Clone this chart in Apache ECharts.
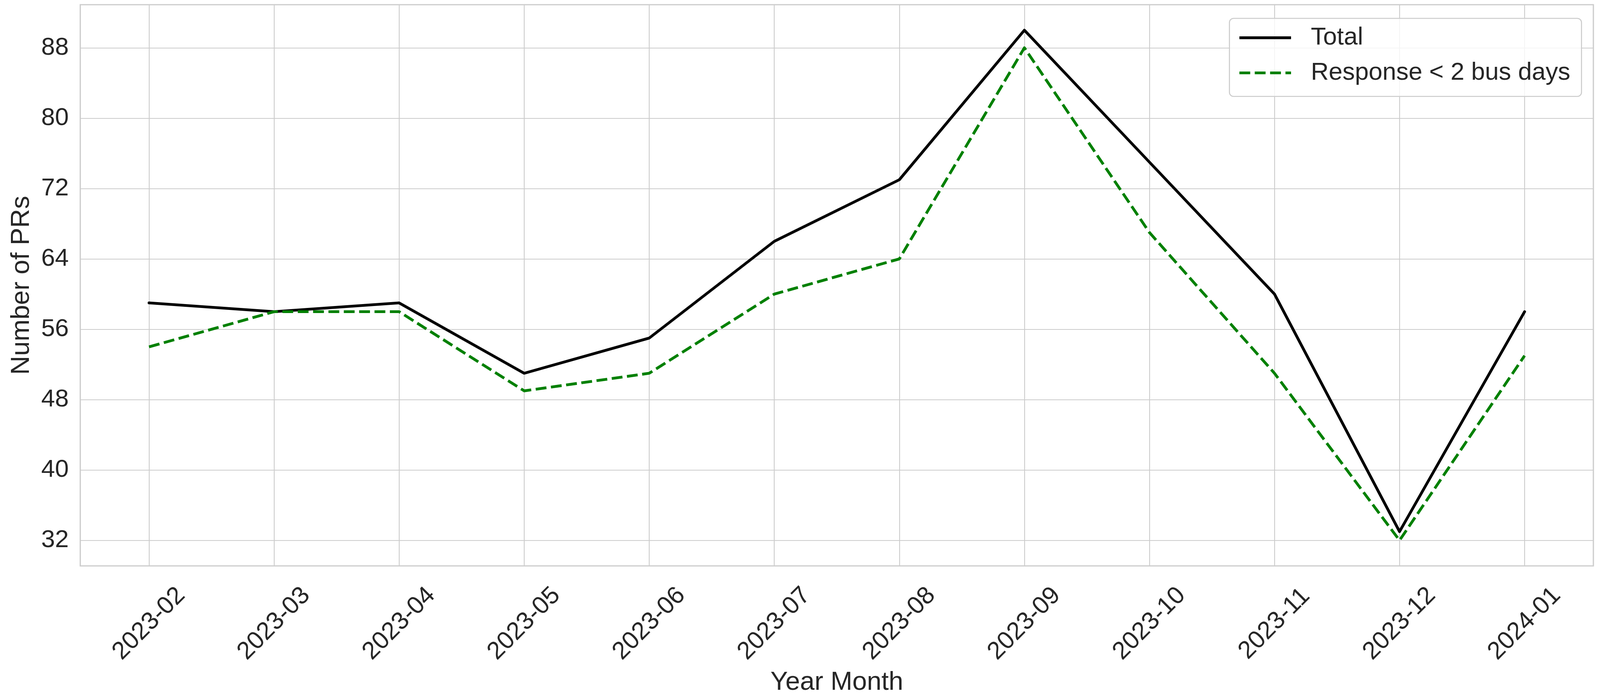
<!DOCTYPE html>
<html>
<head>
<meta charset="utf-8">
<script src="https://cdn.jsdelivr.net/npm/echarts@6/dist/echarts.min.js"></script>
<style>
html,body{margin:0;padding:0;background:#ffffff;overflow:hidden;width:100%;height:100%;}
#chart{width:100vw;height:100vh;}
</style>
</head>
<body>
<div id="chart"></div>
<script>
const categories = ['2023-02','2023-03','2023-04','2023-05','2023-06','2023-07','2023-08','2023-09','2023-10','2023-11','2023-12','2024-01'];
const totalPRs = [59, 58, 59, 51, 55, 66, 73, 90, 75, 60, 33, 58];
const fastResponsePRs = [54, 58, 58, 49, 51, 60, 64, 88, 67, 51, 32, 53];
const yTicks = [32, 40, 48, 56, 64, 72, 80, 88];
const seriesNames = ['Total', 'Response < 2 bus days'];
const xAxisTitle = 'Year Month';
const yAxisTitle = 'Number of PRs';

const FONT = "'Liberation Sans', Arial, sans-serif";
const TEXT = '#262626';
const GRID = '#cccccc';

const el = document.getElementById('chart');
const W = el.clientWidth || window.innerWidth || 4585;
const H = el.clientHeight || window.innerHeight || 1786;
const sx = W / 4585, sy = H / 1786, sf = Math.min(sx, sy);

const catIndex = categories.map((c, i) => i);
const chart = echarts.init(el, null, {renderer: 'canvas', width: W, height: H});

chart.setOption({
  backgroundColor: '#ffffff',
  animation: false,
  textStyle: {fontFamily: FONT},
  grid: {
    left: 230 * sx, right: 19 * sx, top: 12 * sy, bottom: 338 * sy,
    show: true, borderColor: GRID, borderWidth: 3.5 * sf, backgroundColor: 'transparent'
  },
  legend: {
    data: [
      {name: seriesNames[0], itemStyle: {opacity: 0, borderWidth: 0},
       lineStyle: {color: '#000000', width: 8 * sf, type: 'solid', cap: 'butt'}},
      {name: seriesNames[1], itemStyle: {opacity: 0, borderWidth: 0},
       lineStyle: {color: '#008000', width: 8 * sf, type: [31 * sf, 13 * sf], cap: 'butt'}}
    ],
    orient: 'vertical',
    right: 53 * sx, top: 47 * sy,
    itemWidth: 148 * sf, itemHeight: 20 * sf, itemGap: 29.6 * sf,
    padding: [20 * sf, 32 * sf, 32 * sf, 24.6 * sf],
    backgroundColor: 'rgba(255,255,255,0.8)',
    borderColor: GRID, borderWidth: 3 * sf, borderRadius: 12 * sf,
    textStyle: {fontSize: 71 * sf, color: TEXT, fontFamily: FONT, lineHeight: 71 * sf, padding: [0, 0, 0, 51 * sf]}
  },
  xAxis: {
    type: 'value',
    min: -0.55, max: 11.55,
    name: xAxisTitle, nameLocation: 'middle', nameGap: 265 * sy,
    nameTextStyle: {fontSize: 75 * sf, color: TEXT, fontFamily: FONT},
    axisLine: {show: false},
    axisTick: {show: false, customValues: catIndex},
    axisLabel: {
      customValues: catIndex,
      formatter: v => categories[Math.round(v)],
      rotate: 45, align: 'center', verticalAlign: 'middle', margin: 148 * sy,
      fontSize: 71 * sf, color: TEXT, fontFamily: FONT
    },
    splitLine: {show: true, lineStyle: {color: GRID, width: 2.5 * sf}}
  },
  yAxis: {
    type: 'value',
    min: 29.1, max: 92.9,
    name: yAxisTitle, nameLocation: 'middle', nameGap: 130 * sx, nameRotate: 90,
    nameTextStyle: {fontSize: 75 * sf, color: TEXT, fontFamily: FONT},
    axisLine: {show: false},
    axisTick: {show: false, customValues: yTicks},
    axisLabel: {customValues: yTicks, margin: 33 * sx, fontSize: 71 * sf, color: TEXT, fontFamily: FONT},
    splitLine: {show: true, lineStyle: {color: GRID, width: 2.5 * sf}}
  },
  series: [
    {
      name: seriesNames[0], type: 'line',
      data: totalPRs.map((v, i) => [i, v]),
      symbol: 'none', color: '#000000',
      lineStyle: {color: '#000000', width: 8 * sf, join: 'round', cap: 'round'}
    },
    {
      name: seriesNames[1], type: 'line',
      data: fastResponsePRs.map((v, i) => [i, v]),
      symbol: 'none', color: '#008000',
      lineStyle: {color: '#008000', width: 8 * sf, type: [31 * sf, 13 * sf], cap: 'butt', join: 'round'}
    }
  ]
});
</script>
</body>
</html>
